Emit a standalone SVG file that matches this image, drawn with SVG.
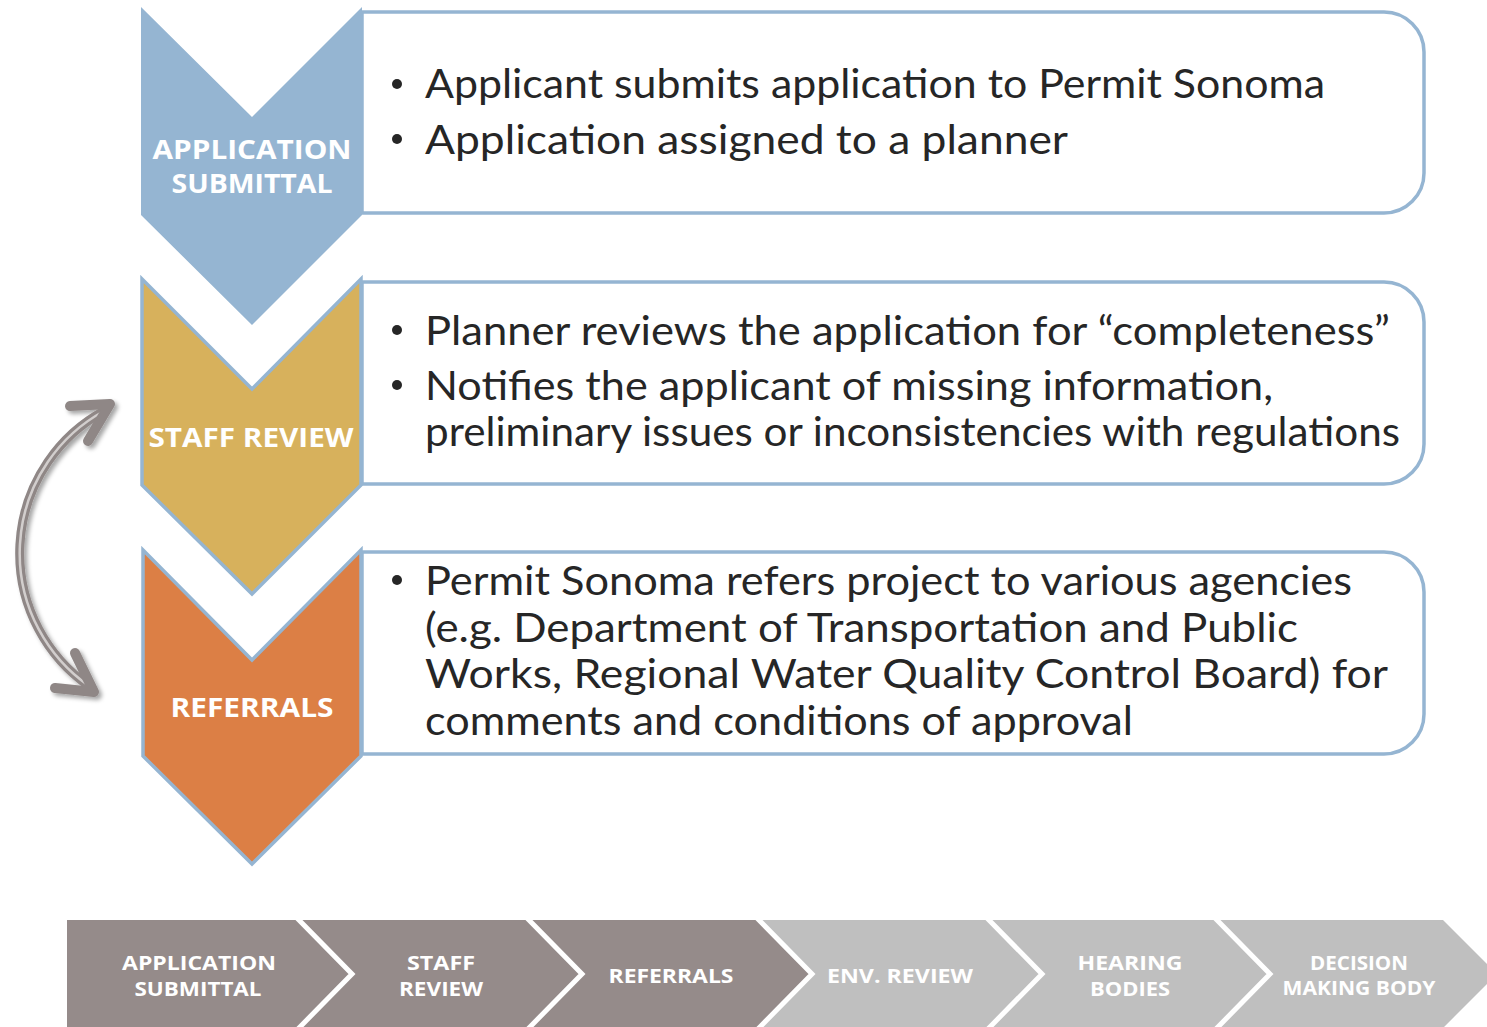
<svg xmlns="http://www.w3.org/2000/svg" width="1487" height="1027" viewBox="0 0 1487 1027">
<defs>
<style>
.box{fill:#ffffff;stroke:#95B5D2;stroke-width:3.5}
.chev{stroke:#95B5D2;stroke-width:3.5;stroke-linejoin:miter}
.body{font-family:Lato,"Noto Sans",sans-serif;font-size:40px;fill:#262626}
.lbl{font-family:"Open Sans","DejaVu Sans",sans-serif;font-weight:bold;font-size:27px;fill:#ffffff;text-anchor:middle}
.blbl{font-family:"Open Sans","DejaVu Sans",sans-serif;font-weight:bold;font-size:20px;fill:#ffffff;text-anchor:middle}
.sep{fill:none;stroke:#ffffff;stroke-width:5;stroke-linejoin:miter}
.arr{fill:none;stroke:#8F8786;stroke-width:9;stroke-linecap:round;stroke-linejoin:round}
.arrh{fill:none;stroke:#8F8786;stroke-width:10;stroke-linecap:round;stroke-linejoin:round}
.arrin{fill:none;stroke:#D2CECD;stroke-width:2.5}
</style>
<filter id="sh" x="-30%" y="-30%" width="160%" height="160%">
<feDropShadow dx="3" dy="3" stdDeviation="2" flood-color="#000000" flood-opacity="0.35"/>
</filter>
</defs>
<rect width="1487" height="1027" fill="#ffffff"/>

<g id="step1">
<path class="box" d="M362,12 H1384 A40,40 0 0 1 1424,52 V173 A40,40 0 0 1 1384,213 H362 Z"/>
<polygon points="141,7 252,117 362,7 362,215 252,325 141,215" fill="#95B5D2"/>
<text class="lbl" x="252" y="159" textLength="199" lengthAdjust="spacingAndGlyphs">APPLICATION</text>
<text class="lbl" x="252" y="193" textLength="161" lengthAdjust="spacingAndGlyphs">SUBMITTAL</text>
<circle cx="397" cy="84" r="5" fill="#262626"/>
<circle cx="397" cy="139" r="5" fill="#262626"/>
<text class="body" x="425" y="98" textLength="900" lengthAdjust="spacingAndGlyphs">Applicant submits application to Permit Sonoma</text>
<text class="body" x="425" y="154" textLength="643" lengthAdjust="spacingAndGlyphs">Application assigned to a planner</text>
</g>

<g id="step2">
<path class="box" d="M362,282 H1384 A40,40 0 0 1 1424,322 V444 A40,40 0 0 1 1384,484 H362 Z"/>
<polygon class="chev" points="142,279 252,389 361,279 361,485 252,594 142,485" fill="#D7B15C"/>
<text class="lbl" x="251" y="447" textLength="205" lengthAdjust="spacingAndGlyphs">STAFF REVIEW</text>
<circle cx="397" cy="330" r="5" fill="#262626"/>
<circle cx="397" cy="385" r="5" fill="#262626"/>
<text class="body" x="425" y="345" textLength="965" lengthAdjust="spacingAndGlyphs">Planner reviews the application for “completeness”</text>
<text class="body" x="425" y="400" textLength="848" lengthAdjust="spacingAndGlyphs">Notifies the applicant of missing information,</text>
<text class="body" x="425" y="446" textLength="975" lengthAdjust="spacingAndGlyphs">preliminary issues or inconsistencies with regulations</text>
</g>

<g id="step3">
<path class="box" d="M362,552 H1384 A40,40 0 0 1 1424,592 V714 A40,40 0 0 1 1384,754 H362 Z"/>
<polygon class="chev" points="143,550 252,660 361,550 361,756 252,864 143,756" fill="#DC7F45"/>
<text class="lbl" x="252" y="717" textLength="163" lengthAdjust="spacingAndGlyphs">REFERRALS</text>
<circle cx="397" cy="580" r="5" fill="#262626"/>
<text class="body" x="425" y="595" textLength="927" lengthAdjust="spacingAndGlyphs">Permit Sonoma refers project to various agencies</text>
<text class="body" x="425" y="642" textLength="873" lengthAdjust="spacingAndGlyphs">(e.g. Department of Transportation and Public</text>
<text class="body" x="425" y="688" textLength="963" lengthAdjust="spacingAndGlyphs">Works, Regional Water Quality Control Board) for</text>
<text class="body" x="425" y="735" textLength="708" lengthAdjust="spacingAndGlyphs">comments and conditions of approval</text>
</g>

<g id="connectors">
<g id="loop-arrow" filter="url(#sh)">
<path class="arr" d="M104,411 A162,162 0 0 0 89,686"/>
<path class="arrin" d="M104,411 A162,162 0 0 0 89,686"/>
<polyline class="arrh" points="70,406 110,404 88,441"/>
<polyline class="arrh" points="55,688 94,692 75,653"/>
</g>
</g>

<g id="progress-bar">
<polygon points="67,920 758,920 812,974 758,1028 67,1028" fill="#958B8A"/>
<polygon points="758,920 1443,920 1497,974 1443,1028 758,1028 812,974" fill="#BFBFBF"/>
<polyline class="sep" points="296,917 352,974 296,1031"/>
<polyline class="sep" points="526,917 582,974 526,1031"/>
<polyline class="sep" points="756,917 812,974 756,1031"/>
<polyline class="sep" points="986,917 1042,974 986,1031"/>
<polyline class="sep" points="1214,917 1270,974 1214,1031"/>
<g id="bar1"><text class="blbl" x="199" y="970" textLength="154" lengthAdjust="spacingAndGlyphs">APPLICATION</text><text class="blbl" x="198" y="996" textLength="127" lengthAdjust="spacingAndGlyphs">SUBMITTAL</text></g>
<g id="bar2"><text class="blbl" x="441" y="970" textLength="68" lengthAdjust="spacingAndGlyphs">STAFF</text><text class="blbl" x="441" y="996" textLength="84" lengthAdjust="spacingAndGlyphs">REVIEW</text></g>
<g id="bar3"><text class="blbl" x="671" y="983" textLength="125" lengthAdjust="spacingAndGlyphs">REFERRALS</text></g>
<g id="bar4"><text class="blbl" x="900" y="983" textLength="146" lengthAdjust="spacingAndGlyphs">ENV. REVIEW</text></g>
<g id="bar5"><text class="blbl" x="1130" y="970" textLength="105" lengthAdjust="spacingAndGlyphs">HEARING</text><text class="blbl" x="1130" y="996" textLength="80" lengthAdjust="spacingAndGlyphs">BODIES</text></g>
<g id="bar6"><text class="blbl" x="1359" y="970" font-size="17" textLength="98" lengthAdjust="spacingAndGlyphs">DECISION</text><text class="blbl" x="1359" y="995" font-size="17" textLength="153" lengthAdjust="spacingAndGlyphs">MAKING BODY</text></g>
</g>
</svg>
